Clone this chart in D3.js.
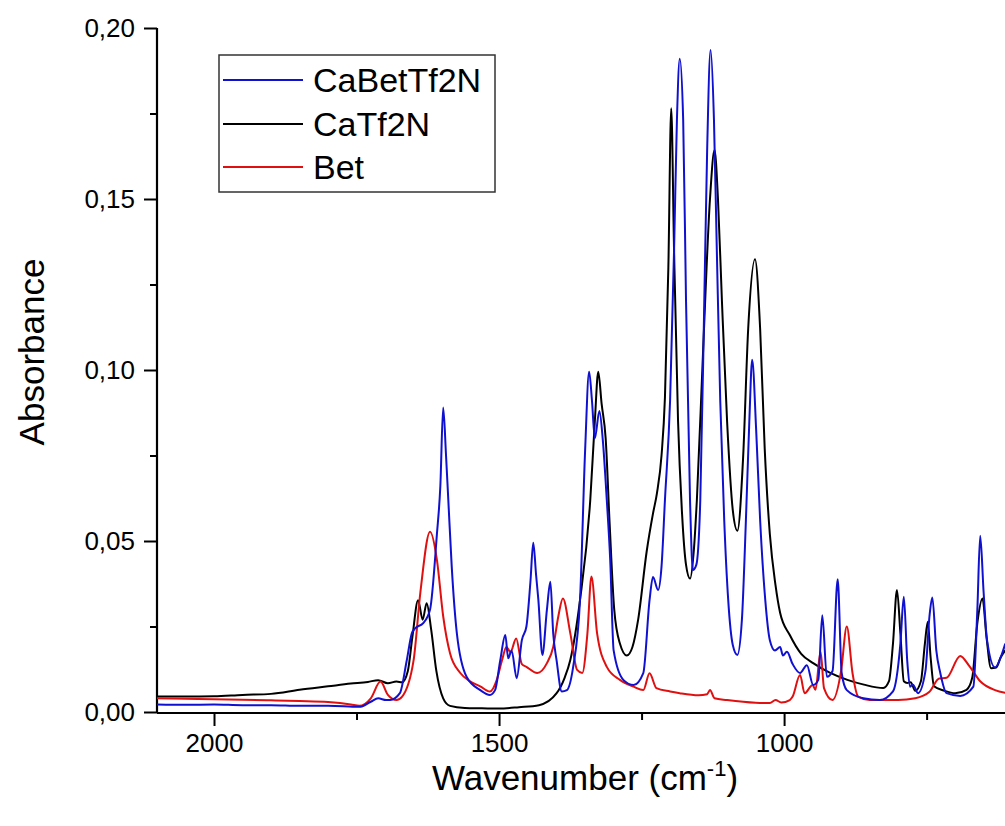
<!DOCTYPE html>
<html>
<head>
<meta charset="utf-8">
<script src="https://cdn.jsdelivr.net/npm/d3@7"></script>
<style>
  html, body { margin: 0; padding: 0; background: #fff; overflow: hidden; }
  svg { display: block; font-family: "Liberation Sans", Arial, sans-serif; }
</style>
</head>
<body>
<svg id="chart" width="1005" height="826"></svg>
<script>
// ---- data: [wavenumber (cm-1), absorbance] ----
const seriesNames = ["CaBetTf2N", "CaTf2N", "Bet"];
const seriesColors = ["#1010d0", "#000000", "#e01010"];

const caBetTf2N = [
  [2100,0.0022],[2050,0.0021],[2000,0.0022],[1950,0.0020],[1900,0.0020],[1850,0.0018],[1800,0.0018],[1745,0.0015],
  [1725,0.0030],[1712,0.0040],[1698,0.0035],[1691,0.0035],[1674,0.0055],[1662,0.015],[1653,0.023],[1647,0.0245],
  [1633,0.026],[1621,0.030],[1609,0.052],[1603,0.066],[1598,0.089],[1593,0.075],[1589,0.062],[1583,0.0425],
  [1574,0.023],[1557,0.0103],[1533,0.0064],[1516,0.0050],[1507,0.0064],[1498,0.015],[1489,0.0225],[1484,0.0157],
  [1478,0.018],[1469,0.0099],[1460,0.021],[1452,0.025],[1445,0.038],[1440,0.0495],[1435,0.040],[1431,0.0327],
  [1424,0.0167],[1416,0.030],[1410,0.0381],[1405,0.023],[1399,0.015],[1390,0.0060],[1381,0.0064],[1370,0.0132],
  [1358,0.0327],[1349,0.0766],[1342,0.0995],[1337,0.091],[1332,0.080],[1324,0.088],[1318,0.0795],[1311,0.062],
  [1305,0.0444],[1299,0.018],[1282,0.0094],[1264,0.0079],[1247,0.0114],[1236,0.0327],[1230,0.0395],[1221,0.0357],
  [1215,0.0425],[1209,0.062],[1200,0.091],[1193,0.135],[1188,0.173],[1183,0.191],[1177,0.173],[1172,0.12],
  [1165,0.062],[1160,0.0415],[1154,0.043],[1147,0.062],[1140,0.12],[1135,0.164],[1129,0.1936],[1123,0.173],
  [1118,0.135],[1112,0.091],[1105,0.056],[1098,0.0327],[1090,0.0196],[1082,0.0167],[1074,0.027],[1067,0.056],
  [1061,0.085],[1056,0.103],[1049,0.0825],[1042,0.056],[1033,0.0327],[1025,0.021],[1016,0.018],[1007,0.019],
  [1002,0.0165],[995,0.0176],[985,0.0140],[972,0.0114],[960,0.0137],[949,0.0079],[940,0.0094],[933,0.0283],
  [925,0.0103],[915,0.012],[906,0.0388],[899,0.0114],[890,0.0064],[861,0.0040],[832,0.0035],[809,0.0060],
  [796,0.020],[790,0.0337],[784,0.015],[779,0.0074],[774,0.0080],[765,0.0055],[752,0.012],[745,0.028],
  [740,0.0335],[733,0.018],[726,0.0114],[715,0.0055],[691,0.0047],[668,0.0074],[661,0.030],[656,0.0515],
  [650,0.035],[644,0.021],[630,0.013],[620,0.016],[612,0.020]
];

const caTf2N = [
  [2100,0.0045],[2050,0.0045],[2000,0.0046],[1950,0.0050],[1900,0.0053],[1850,0.0065],[1800,0.0075],[1760,0.0083],
  [1730,0.0088],[1712,0.0093],[1695,0.0084],[1680,0.0089],[1670,0.0087],[1660,0.012],[1652,0.022],[1642,0.0327],
  [1634,0.027],[1627,0.0318],[1619,0.024],[1610,0.012],[1598,0.0040],[1586,0.0018],[1560,0.0012],[1530,0.0011],
  [1500,0.0010],[1465,0.0014],[1430,0.0020],[1399,0.0055],[1385,0.010],[1375,0.0152],[1358,0.0327],[1340,0.062],
  [1332,0.085],[1326,0.0995],[1320,0.090],[1313,0.080],[1306,0.055],[1298,0.030],[1288,0.020],[1276,0.0165],
  [1266,0.019],[1256,0.027],[1241,0.047],[1230,0.058],[1223,0.064],[1215,0.075],[1209,0.092],[1203,0.130],
  [1198,0.1765],[1193,0.135],[1186,0.085],[1179,0.058],[1172,0.043],[1165,0.039],[1158,0.048],[1153,0.062],
  [1142,0.106],[1130,0.150],[1122,0.1643],[1116,0.150],[1109,0.120],[1100,0.085],[1090,0.059],[1082,0.053],
  [1072,0.074],[1063,0.112],[1051,0.1324],[1042,0.112],[1034,0.077],[1025,0.052],[1015,0.037],[1007,0.029],
  [990,0.0225],[970,0.017],[949,0.0143],[920,0.0115],[889,0.0094],[860,0.0080],[826,0.0070],[816,0.0090],
  [809,0.020],[802,0.0357],[796,0.023],[790,0.0090],[784,0.0085],[778,0.0087],[770,0.0062],[760,0.0090],
  [753,0.020],[748,0.0264],[743,0.016],[737,0.0075],[720,0.0063],[700,0.0055],[680,0.0065],[670,0.010],
  [661,0.026],[652,0.0332],[645,0.022],[637,0.0128],[628,0.013],[620,0.016],[612,0.018]
];

const bet = [
  [2100,0.0040],[2050,0.0039],[2000,0.0037],[1950,0.0036],[1900,0.0034],[1850,0.0032],[1800,0.0029],[1760,0.0022],
  [1745,0.0018],[1725,0.0040],[1708,0.0089],[1695,0.0050],[1680,0.0035],[1670,0.0045],[1650,0.015],[1638,0.035],
  [1621,0.0527],[1609,0.0445],[1598,0.028],[1586,0.0172],[1568,0.0114],[1551,0.0090],[1533,0.0075],[1516,0.0060],
  [1504,0.0094],[1495,0.015],[1487,0.019],[1480,0.0175],[1470,0.0215],[1460,0.014],[1452,0.0132],[1433,0.0114],
  [1416,0.0143],[1405,0.019],[1396,0.028],[1388,0.0332],[1375,0.023],[1363,0.0123],[1354,0.0114],[1345,0.023],
  [1338,0.0396],[1328,0.023],[1311,0.0132],[1288,0.0094],[1264,0.0074],[1247,0.0064],[1236,0.0113],[1224,0.0070],
  [1200,0.0060],[1183,0.0055],[1150,0.0049],[1135,0.0052],[1130,0.0064],[1122,0.0040],[1100,0.0035],[1050,0.0027],
  [1025,0.0026],[1015,0.0035],[1005,0.0028],[990,0.0035],[985,0.0045],[972,0.0108],[964,0.0055],[950,0.0079],
  [945,0.0065],[936,0.0176],[930,0.0070],[915,0.0035],[900,0.012],[890,0.025],[880,0.0114],[870,0.0045],
  [850,0.0035],[800,0.0035],[770,0.0040],[745,0.0059],[728,0.0098],[715,0.0100],[691,0.0164],[675,0.0134],
  [656,0.0090],[630,0.0064],[612,0.0056]
];

const xMajorTicks = [2000, 1500, 1000];
const xMinorTicks = [1750, 1250, 750];
const yMajorTicks = [0, 0.05, 0.10, 0.15, 0.20];
const yMinorTicks = [0.025, 0.075, 0.125, 0.175];
const xTitle = "Wavenumber (cm";
const yTitle = "Absorbance";

// ---- layout ----
const svg = d3.select("#chart");
const pLeft = 157, pRight = 1005, pTop = 28, pBottom = 712;

const x = d3.scaleLinear().domain([2100, 612.5]).range([pLeft, pRight]);
const y = d3.scaleLinear().domain([0, 0.20]).range([pBottom, pTop]);

svg.append("defs").append("clipPath").attr("id", "clip")
  .append("rect").attr("x", pLeft).attr("y", 0).attr("width", pRight - pLeft).attr("height", pBottom + 1);

const fmt = d => d3.format(".2f")(d).replace(".", ",");

// y axis
const yAxis = svg.append("g").attr("transform", `translate(${pLeft},0)`)
  .call(d3.axisLeft(y).tickValues(yMajorTicks).tickFormat(fmt).tickSize(13).tickPadding(9));
svg.append("g").attr("transform", `translate(${pLeft},0)`)
  .call(d3.axisLeft(y).tickValues(yMinorTicks).tickFormat("").tickSize(7))
  .select(".domain").remove();

// x axis
const xAxis = svg.append("g").attr("transform", `translate(0,${pBottom + 1})`)
  .call(d3.axisBottom(x).tickValues(xMajorTicks).tickFormat(d3.format("d")).tickSize(13).tickPadding(8));
svg.append("g").attr("transform", `translate(0,${pBottom + 1})`)
  .call(d3.axisBottom(x).tickValues(xMinorTicks).tickFormat("").tickSize(7))
  .select(".domain").remove();

svg.selectAll(".domain").attr("stroke", "#000").attr("stroke-width", 2.2);
svg.selectAll(".tick line").attr("stroke", "#000").attr("stroke-width", 2);
svg.selectAll(".tick text").attr("font-family", "Liberation Sans, Arial, sans-serif")
  .attr("font-size", 26).attr("fill", "#000");
yAxis.select(".domain").attr("d", `M0,${pTop}V${pBottom + 1}`);
xAxis.select(".domain").attr("d", `M${pLeft},0H${pRight}`);

// lines
const line = d3.line().x(d => x(d[0])).y(d => y(d[1])).curve(d3.curveMonotoneX);
const seriesData = [caBetTf2N, caTf2N, bet];
const drawOrder = [1, 2, 0];
const g = svg.append("g").attr("clip-path", "url(#clip)");
drawOrder.forEach(i => {
  g.append("path").datum(seriesData[i])
    .attr("fill", "none")
    .attr("stroke", seriesColors[i])
    .attr("stroke-width", 2)
    .attr("stroke-linejoin", "round")
    .attr("d", line);
});

// axis titles
svg.append("text")
  .attr("transform", `translate(44,352) rotate(-90)`)
  .attr("text-anchor", "middle")
  .attr("font-size", 35)
  .attr("fill", "#000")
  .text(yTitle);

const xt = svg.append("text")
  .attr("x", 585).attr("y", 790)
  .attr("text-anchor", "middle")
  .attr("font-size", 35)
  .attr("fill", "#000");
xt.append("tspan").text(xTitle);
xt.append("tspan").attr("font-size", 22).attr("dy", -14).text("-1");
xt.append("tspan").attr("dy", 14).text(")");

// legend
const lg = svg.append("g");
lg.append("rect").attr("x", 219).attr("y", 55).attr("width", 276).attr("height", 137)
  .attr("fill", "#fff").attr("stroke", "#333").attr("stroke-width", 1.5);
const rowsY = [80, 124, 167];
seriesNames.forEach((n, i) => {
  lg.append("line").attr("x1", 223).attr("x2", 303).attr("y1", rowsY[i]).attr("y2", rowsY[i])
    .attr("stroke", seriesColors[i]).attr("stroke-width", 2);
  lg.append("text").attr("x", 313).attr("y", rowsY[i] + 12).attr("font-size", 34)
    .attr("fill", "#000").text(n);
});
</script>
</body>
</html>
